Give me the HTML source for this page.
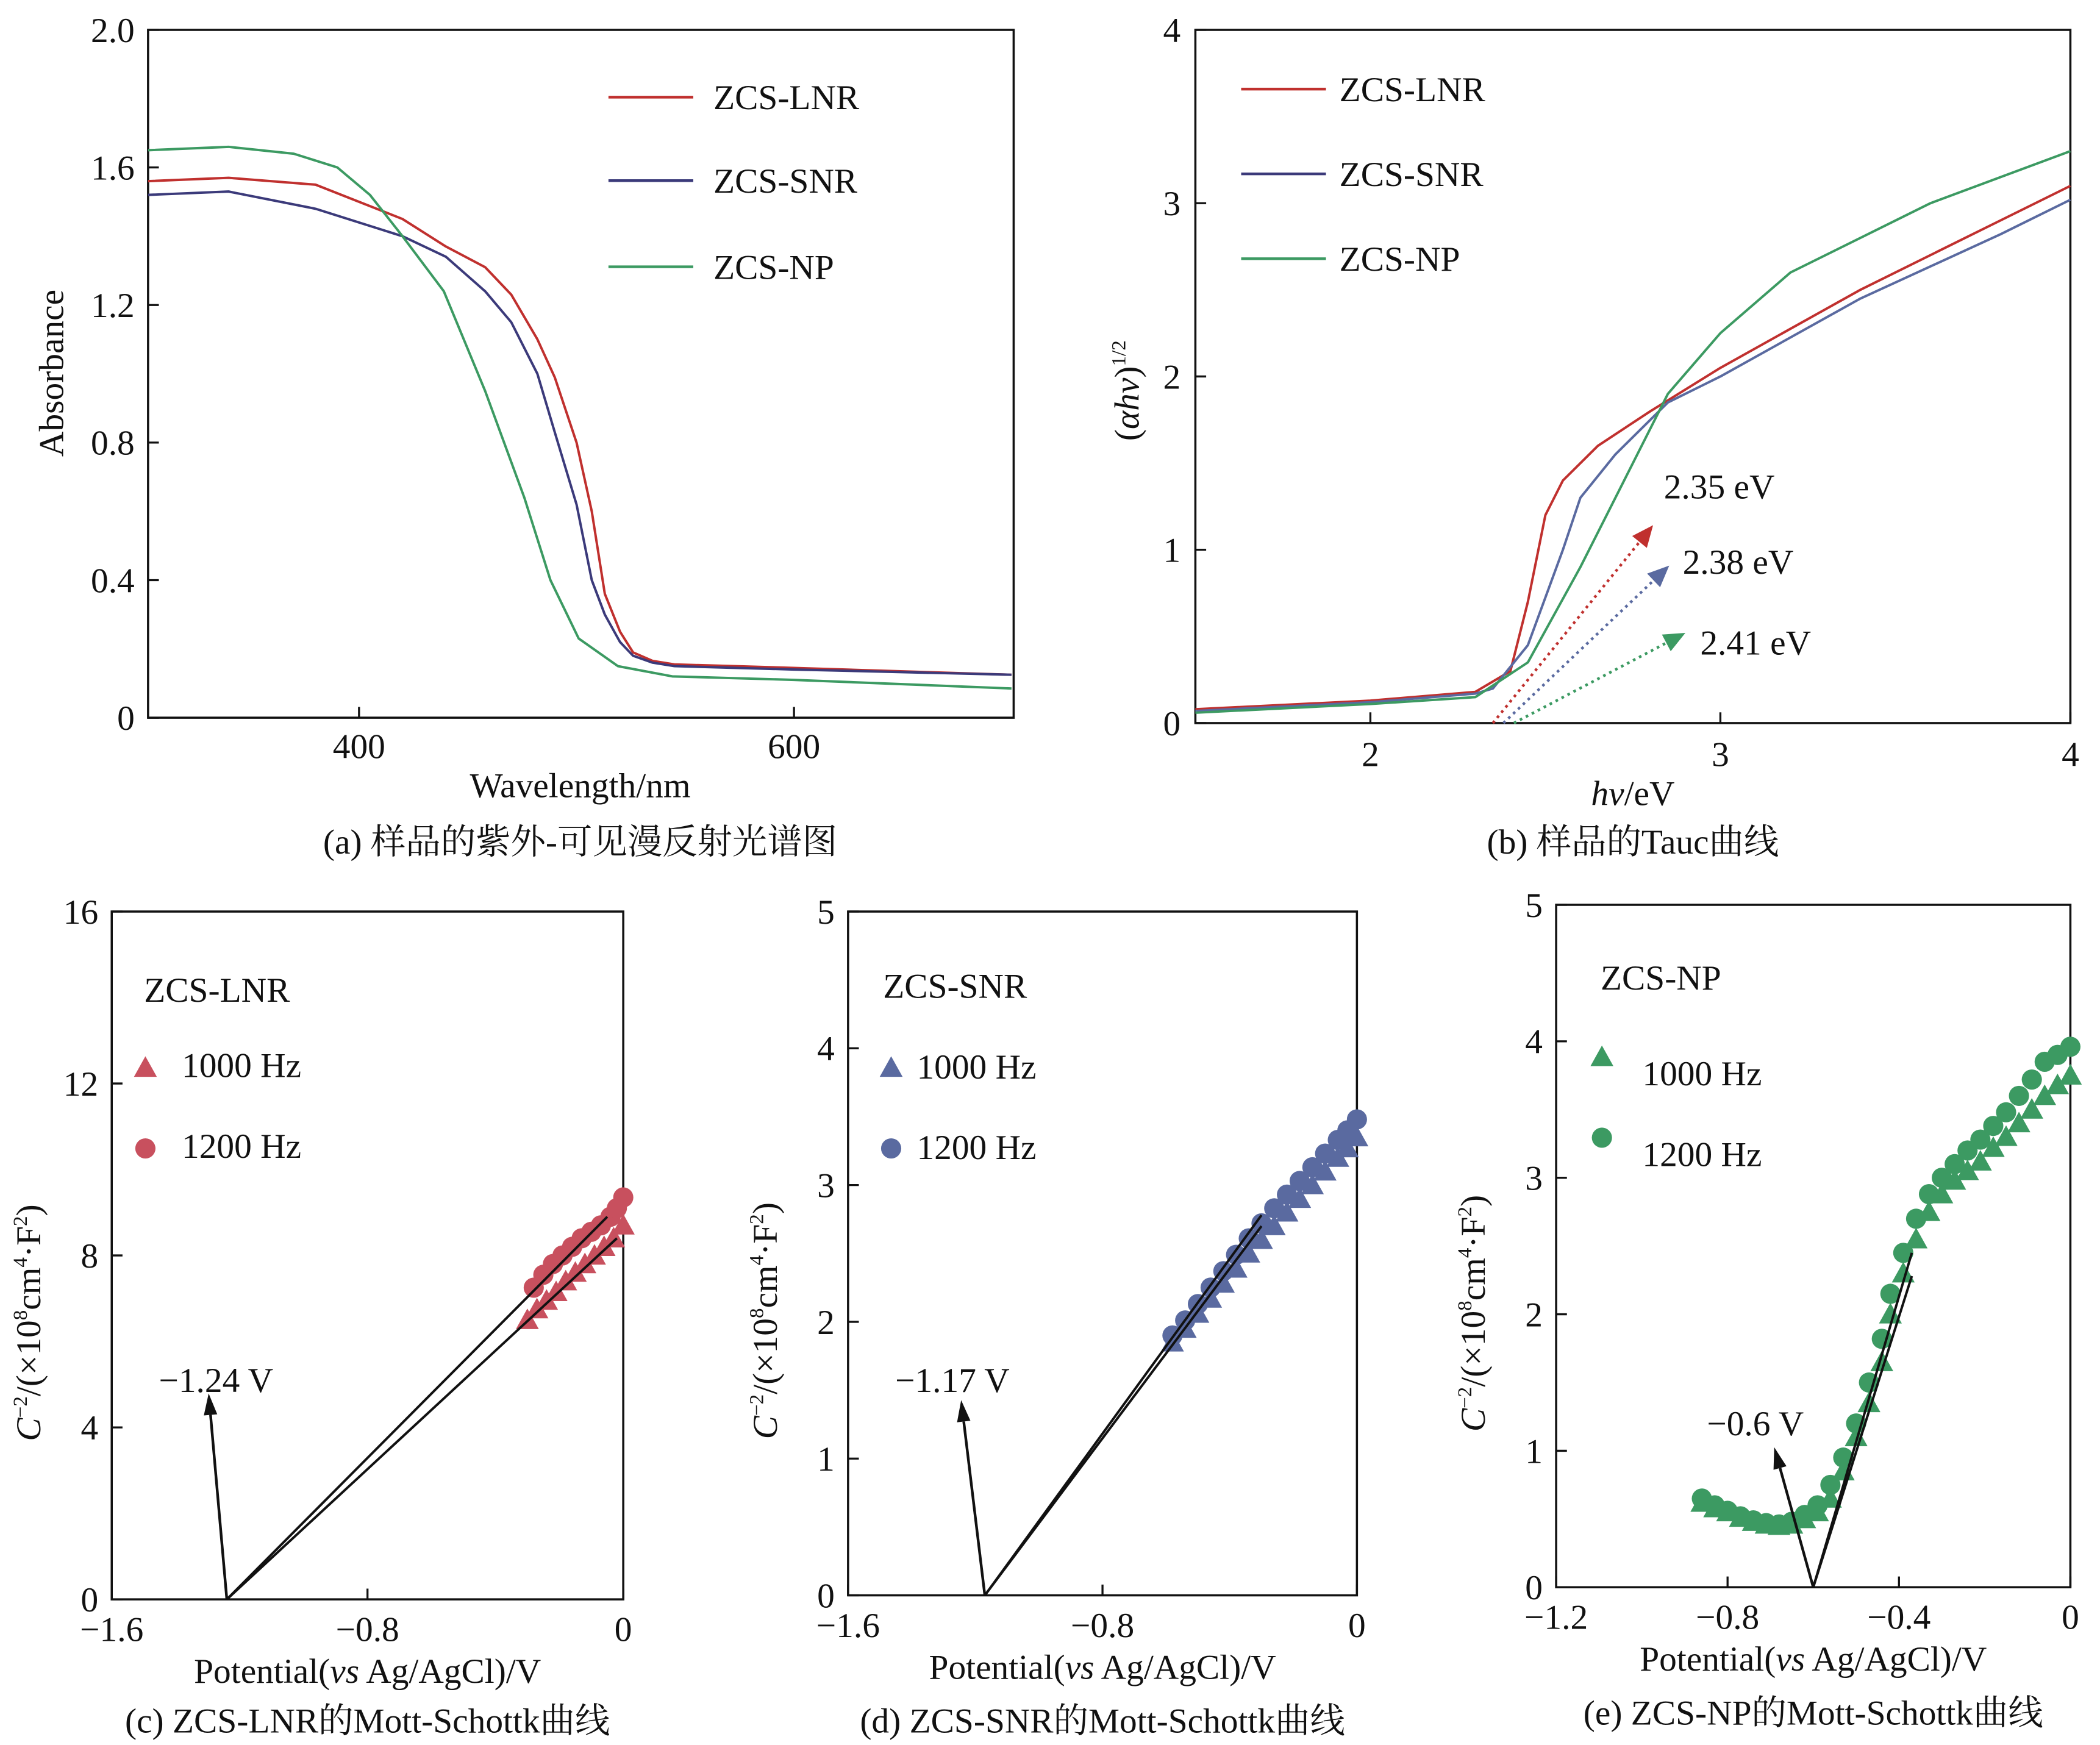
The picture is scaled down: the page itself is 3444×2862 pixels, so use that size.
<!DOCTYPE html>
<html><head><meta charset="utf-8">
<style>
html,body{margin:0;padding:0;background:#fff;}
svg{display:block;}
text{font-family:"Liberation Serif","Noto Serif CJK SC","Noto Sans CJK SC",serif;fill:#111;}
</style></head>
<body>
<svg id="fig" width="3444" height="2862" viewBox="0 0 1560 1296" xmlns="http://www.w3.org/2000/svg">
<g id="root"></g>
</svg>
<script>
// ---- Panel (a) data ----
const aWl = [303,340,380,420,440,458,470,482,490,500,507,513,520,526,535,545,600,700];
const aLNR = [1.56,1.57,1.55,1.45,1.37,1.31,1.23,1.1,0.99,0.8,0.6,0.36,0.25,0.19,0.165,0.155,0.145,0.125];
const aSNR = [1.52,1.53,1.48,1.4,1.34,1.24,1.15,1.0,0.83,0.62,0.4,0.3,0.22,0.18,0.16,0.15,0.14,0.125];
const aNPwl = [303,340,370,390,405,420,439,458,476,488,501,519,544,600,700];
const aNP = [1.65,1.66,1.64,1.6,1.52,1.4,1.24,0.95,0.64,0.4,0.23,0.15,0.12,0.11,0.085];
const aXTicks = [400,600];
const aYTicks = [0,0.4,0.8,1.2,1.6,2.0];
const aYLabels = ["0","0.4","0.8","1.2","1.6","2.0"];
// ---- Panel (b) data ----
const bE = [1.5,2.0,2.3,2.4,2.45,2.5,2.55,2.65,2.8,3.0,3.4,3.8,4.0];
const bLNR = [0.08,0.13,0.18,0.3,0.7,1.2,1.4,1.6,1.8,2.05,2.5,2.9,3.1];
const bE2 = [1.5,2.0,2.3,2.35,2.45,2.55,2.6,2.7,2.85,3.0,3.4,3.8,4.0];
const bSNR = [0.07,0.12,0.17,0.2,0.45,1.0,1.3,1.55,1.85,2.0,2.45,2.82,3.02];
const bE3 = [1.5,2.0,2.3,2.45,2.6,2.75,2.85,3.0,3.2,3.6,4.0];
const bNP = [0.06,0.11,0.15,0.35,0.9,1.5,1.9,2.25,2.6,3.0,3.3];
const bGaps = [2.35,2.38,2.41];
const bGapLabels = ["2.35 eV","2.38 eV","2.41 eV"];
// ---- Panel (c) data ----
const cV1 = [-0.3,-0.27,-0.24,-0.21,-0.18,-0.15,-0.12,-0.09,-0.06,-0.03,0];
const cT = [6.5,6.75,6.95,7.15,7.4,7.6,7.8,8.0,8.2,8.4,8.7];
const cV2 = [-0.28,-0.25,-0.22,-0.19,-0.16,-0.13,-0.1,-0.07,-0.04,-0.02,0];
const cC = [7.25,7.55,7.8,8.0,8.2,8.4,8.55,8.7,8.9,9.1,9.35];
const cFits = [[-1.24,0,-0.02,8.4],[-1.24,0,-0.05,8.9]];
// ---- Panel (d) data ----
const dV = [-0.58,-0.54,-0.5,-0.46,-0.42,-0.38,-0.34,-0.3,-0.26,-0.22,-0.18,-0.14,-0.1,-0.06,-0.03,0];
const dT = [1.85,1.95,2.06,2.17,2.28,2.39,2.5,2.6,2.7,2.8,2.9,3.0,3.1,3.2,3.27,3.35];
const dC = [1.9,2.01,2.13,2.25,2.37,2.49,2.61,2.72,2.83,2.93,3.03,3.13,3.23,3.33,3.4,3.48];
const dFits = [[-1.17,0,-0.3,2.7],[-1.17,0,-0.3,2.78]];
// ---- Panel (e) data ----
const eV = [-0.86,-0.83,-0.8,-0.77,-0.74,-0.71,-0.68,-0.65,-0.62,-0.59,-0.56,-0.53,-0.5,-0.47,-0.44,-0.42,-0.39,-0.36,-0.33,-0.3,-0.27,-0.24,-0.21,-0.18,-0.15,-0.12,-0.09,-0.06,-0.03,0];
const eT = [0.62,0.58,0.55,0.51,0.48,0.46,0.45,0.46,0.5,0.55,0.65,0.85,1.1,1.35,1.65,2.0,2.3,2.55,2.75,2.88,2.98,3.05,3.12,3.22,3.3,3.4,3.5,3.6,3.68,3.75];
const eC = [0.65,0.6,0.56,0.52,0.49,0.47,0.46,0.48,0.53,0.6,0.75,0.95,1.2,1.5,1.82,2.15,2.45,2.7,2.88,3.0,3.1,3.2,3.28,3.38,3.48,3.6,3.72,3.85,3.9,3.96];
const eFits = [[-0.6,0,-0.37,2.45],[-0.6,0,-0.37,2.28]];

const NS="http://www.w3.org/2000/svg";
const root=document.getElementById('root');
function el(tag,attrs,parent,txt){const e=document.createElementNS(NS,tag);for(const k in attrs)e.setAttribute(k,attrs[k]);if(txt!==undefined)e.textContent=txt;(parent||root).appendChild(e);return e;}
function lin(d0,d1,r0,r1){return v=>r0+(v-d0)*(r1-r0)/(d1-d0);}
function path(xs,ys,X,Y){return xs.map((x,i)=>(i?'L':'M')+X(x).toFixed(1)+','+Y(ys[i]).toFixed(1)).join('');}
function frame(g,x0,y0,x1,y1){const r=el('rect',{x:x0,y:y0,width:x1-x0,height:y1-y0,fill:'none',stroke:'#111','stroke-width':1.6},g);}
function tri(g,cx,cy,c,s){el('polygon',{points:`${cx},${cy-s} ${cx-s},${cy+s*0.8} ${cx+s},${cy+s*0.8}`,fill:c},g);}
const FS=26;

// ===== Panel a =====
(function(){
const g=el('g',{});
const X=lin(303,701,110,753),Y=lin(0,2,533,22);
frame(g,110,22,753,533);
aXTicks.forEach(t=>{el('line',{x1:X(t),x2:X(t),y1:533,y2:525,stroke:'#111','stroke-width':1.5},g);const tx=el('text',{x:X(t),y:563,'font-size':FS,'text-anchor':'middle'},g,t);});
aYTicks.forEach((t,i)=>{el('line',{x1:110,x2:118,y1:Y(t),y2:Y(t),stroke:'#111','stroke-width':1.5},g);const tx=el('text',{x:100,y:Y(t)+9,'font-size':FS,'text-anchor':'end'},g,aYLabels[i]);});
const xt=el('text',{x:431,y:592,'font-size':FS,'text-anchor':'middle'},g,'Wavelength/nm');
const yt=el('text',{x:47,y:277,'font-size':FS,'text-anchor':'middle',transform:'rotate(-90 47 277)'},g,'Absorbance');
const s1=el('path',{d:path(aWl,aLNR,X,Y),fill:'none',stroke:'#c0302e','stroke-width':1.8,'stroke-linejoin':'round'},g);
const s2=el('path',{d:path(aWl,aSNR,X,Y),fill:'none',stroke:'#3b3a7a','stroke-width':1.8,'stroke-linejoin':'round'},g);
const s3=el('path',{d:path(aNPwl,aNP,X,Y),fill:'none',stroke:'#3c9a62','stroke-width':1.8,'stroke-linejoin':'round'},g);
[['ZCS-LNR','#c0302e',72],['ZCS-SNR','#3b3a7a',134],['ZCS-NP','#3c9a62',198]].forEach(l=>{const lg=el('g',{},g);el('line',{x1:452,x2:515,y1:l[2],y2:l[2],stroke:l[1],'stroke-width':2},lg);el('text',{x:530,y:l[2]+9,'font-size':FS},lg,l[0]);});
const cap=el('text',{x:431,y:634,'font-size':26,'text-anchor':'middle'},g,'(a) 样品的紫外-可见漫反射光谱图');
})();

// ===== Panel b =====
(function(){
const g=el('g',{});
const X=lin(1.5,4,888,1538),Y=lin(0,4,537,22);
frame(g,888,22,1538,537);
[2,3,4].forEach(t=>{el('line',{x1:X(t),x2:X(t),y1:537,y2:529,stroke:'#111','stroke-width':1.5},g);const tx=el('text',{x:X(t),y:569,'font-size':FS,'text-anchor':'middle'},g,t);});
[0,1,2,3,4].forEach(t=>{el('line',{x1:888,x2:896,y1:Y(t),y2:Y(t),stroke:'#111','stroke-width':1.5},g);const tx=el('text',{x:877,y:Y(t)+9,'font-size':FS,'text-anchor':'end'},g,t);});
const xt=el('text',{x:1213,y:598,'font-size':FS,'text-anchor':'middle'},g);
el('tspan',{'font-style':'italic'},xt,'hv');el('tspan',{},xt,'/eV');
const yt=el('text',{x:846,y:290,'font-size':FS,'text-anchor':'middle',transform:'rotate(-90 846 290)'},g);
el('tspan',{},yt,'(');el('tspan',{'font-style':'italic'},yt,'αhv');el('tspan',{},yt,')');el('tspan',{'font-size':15,dy:-10},yt,'1/2');
const cols=['#c0302e','#5a6aa0','#3c9a62'];
const s1=el('path',{d:path(bE,bLNR,X,Y),fill:'none',stroke:'#c0302e','stroke-width':1.8,'stroke-linejoin':'round'},g);
const s2=el('path',{d:path(bE2,bSNR,X,Y),fill:'none',stroke:'#5a6aa0','stroke-width':1.8,'stroke-linejoin':'round'},g);
const s3=el('path',{d:path(bE3,bNP,X,Y),fill:'none',stroke:'#3c9a62','stroke-width':1.8,'stroke-linejoin':'round'},g);
const ends=[[1228,390],[1240,420],[1252,470]];
const labs=[[1236,370],[1250,426],[1263,486]];
bGaps.forEach((v,i)=>{const ag=el('g',{},g);
 const x0=X(v),y0=537,[x1,y1]=ends[i];const ang=Math.atan2(y1-y0,x1-x0);
 const bx=x1-16*Math.cos(ang),by=y1-16*Math.sin(ang);
 el('line',{x1:x0,y1:y0,x2:bx,y2:by,stroke:cols[i],'stroke-width':2,'stroke-dasharray':'2,3'},ag);
 const px=-Math.sin(ang)*7,py=Math.cos(ang)*7;
 el('polygon',{points:`${x1},${y1} ${bx+px},${by+py} ${bx-px},${by-py}`,fill:cols[i]},ag);
 el('text',{x:labs[i][0],y:labs[i][1],'font-size':FS},ag,bGapLabels[i]);});
[['ZCS-LNR','#c0302e',66],['ZCS-SNR','#3b3a7a',129],['ZCS-NP','#3c9a62',192]].forEach(l=>{const lg=el('g',{},g);el('line',{x1:922,x2:985,y1:l[2],y2:l[2],stroke:l[1],'stroke-width':2},lg);el('text',{x:995,y:l[2]+9,'font-size':FS},lg,l[0]);});
const cap=el('text',{x:1213,y:634,'font-size':26,'text-anchor':'middle'},g,'(b) 样品的Tauc曲线');
})();

// ===== Mott-Schottky panels =====
function ms(o){
const g=el('g',{});
const X=lin(o.xd[0],o.xd[1],o.x0,o.x1),Y=lin(0,o.ymax,o.y1,o.y0);
frame(g,o.x0,o.y0,o.x1,o.y1);
o.xt.forEach((t,i)=>{el('line',{x1:X(t),x2:X(t),y1:o.y1,y2:o.y1-8,stroke:'#111','stroke-width':1.5},g);const tx=el('text',{x:X(t),y:o.y1+31,'font-size':FS,'text-anchor':'middle'},g,o.xl[i]);});
o.yt.forEach(t=>{el('line',{x1:o.x0,x2:o.x0+8,y1:Y(t),y2:Y(t),stroke:'#111','stroke-width':1.5},g);const tx=el('text',{x:o.x0-10,y:Y(t)+9,'font-size':FS,'text-anchor':'end'},g,t);});
const xm=(o.x0+o.x1)/2;
const xt=el('text',{x:xm,y:o.y1+62,'font-size':FS,'text-anchor':'middle'},g);
el('tspan',{},xt,'Potential(');el('tspan',{'font-style':'italic'},xt,'vs');el('tspan',{},xt,' Ag/AgCl)/V');
const yx=o.x0-53,yy=(o.y0+o.y1)/2+50;
const yt=el('text',{x:yx,y:yy,'font-size':FS,'text-anchor':'middle',transform:`rotate(-90 ${yx} ${yy})`},g);
el('tspan',{'font-style':'italic'},yt,'C');el('tspan',{'font-size':15,dy:-10},yt,'−2');el('tspan',{dy:10},yt,'/(×10');el('tspan',{'font-size':15,dy:-10},yt,'8');el('tspan',{dy:10},yt,'cm');el('tspan',{'font-size':15,dy:-10},yt,'4');el('tspan',{dy:10},yt,'·F');el('tspan',{'font-size':15,dy:-10},yt,'2');el('tspan',{dy:10},yt,')');
const tg=el('g',{},g);
o.vt.forEach((v,i)=>tri(tg,X(v),Y(o.t[i]),o.col,8.5));
const cg=el('g',{},g);
o.vc.forEach((v,i)=>el('circle',{cx:X(v),cy:Y(o.c[i]),r:7.5,fill:o.col},cg));
o.fits.forEach(f=>{const l=el('line',{x1:X(f[0]),y1:Y(f[1]),x2:X(f[2]),y2:Y(f[3]),stroke:'#111','stroke-width':1.8},g);});
const ag=el('g',{},g);
const ax0=X(o.fits[0][0]),ay0=o.y1,[ax1,ay1]=o.arrow;const ang=Math.atan2(ay1-ay0,ax1-ax0);
const bx=ax1-16*Math.cos(ang),by=ay1-16*Math.sin(ang),px=-Math.sin(ang)*5,py=Math.cos(ang)*5;
el('line',{x1:ax0,y1:ay0,x2:bx,y2:by,stroke:'#111','stroke-width':2},ag);
el('polygon',{points:`${ax1},${ay1} ${bx+px},${by+py} ${bx-px},${by-py}`,fill:'#111'},ag);
el('text',{x:o.lab[0],y:o.lab[1],'font-size':FS},ag,o.labT);
const lg=el('g',{},g);
el('text',{x:o.leg[0],y:o.leg[1],'font-size':FS},lg,o.legT);
tri(lg,o.leg[2],o.leg[3],o.col,8.5);el('text',{x:o.leg[4],y:o.leg[5],'font-size':FS},lg,'1000 Hz');
el('circle',{cx:o.leg[2],cy:o.leg[3]+60,r:7.5,fill:o.col},lg);el('text',{x:o.leg[4],y:o.leg[5]+60,'font-size':FS},lg,'1200 Hz');
const cap=el('text',{x:xm,y:o.capY,'font-size':26,'text-anchor':'middle'},g,o.cap);
}
ms({name:'panel-c-lnr',x0:83,x1:463,y0:677,y1:1188,xd:[-1.6,0],ymax:16,xt:[-1.6,-0.8,0],xl:['−1.6','−0.8','0'],yt:[0,4,8,12,16],
 vt:cV1,t:cT,vc:cV2,c:cC,fits:cFits,col:'#c8505e',arrow:[155,1035],lab:[118,1034],labT:'−1.24 V',
 leg:[107,744,108,793,135,800],legT:'ZCS-LNR',cap:'(c) ZCS-LNR的Mott-Schottk曲线',capY:1287});
ms({name:'panel-d-snr',x0:630,x1:1008,y0:677,y1:1185,xd:[-1.6,0],ymax:5,xt:[-1.6,-0.8,0],xl:['−1.6','−0.8','0'],yt:[0,1,2,3,4,5],
 vt:dV,t:dT,vc:dV,c:dC,fits:dFits,col:'#5a6aa0',arrow:[714,1040],lab:[665,1034],labT:'−1.17 V',
 leg:[656,741,662,793,681,801],legT:'ZCS-SNR',cap:'(d) ZCS-SNR的Mott-Schottk曲线',capY:1287});
ms({name:'panel-e-np',x0:1156,x1:1538,y0:672,y1:1179,xd:[-1.2,0],ymax:5,xt:[-1.2,-0.8,-0.4,0],xl:['−1.2','−0.8','−0.4','0'],yt:[0,1,2,3,4,5],
 vt:eV,t:eT,vc:eV,c:eC,fits:eFits,col:'#3c9a62',arrow:[1318,1075],lab:[1268,1066],labT:'−0.6 V',
 leg:[1189,735,1190,785,1220,806],legT:'ZCS-NP',cap:'(e) ZCS-NP的Mott-Schottk曲线',capY:1281});
</script>
</body></html>
